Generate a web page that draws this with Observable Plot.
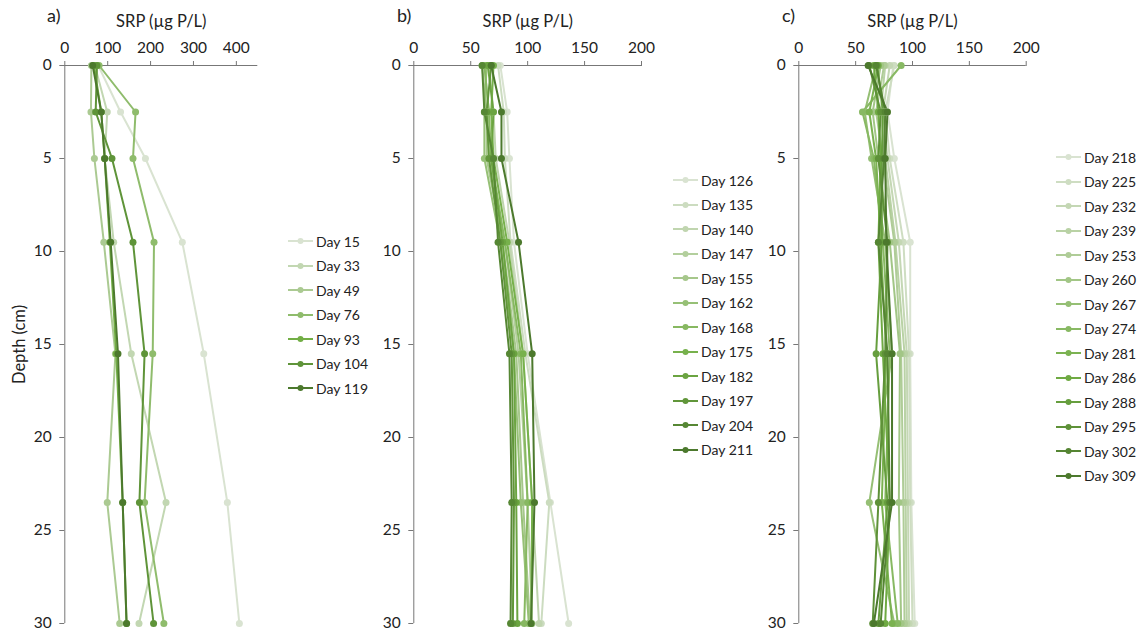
<!DOCTYPE html>
<html><head><meta charset="utf-8">
<script src="https://cdn.jsdelivr.net/npm/d3@7"></script>
<script src="https://cdn.jsdelivr.net/npm/@observablehq/plot@0.6"></script>
<style>
body{margin:0;background:#fff;font-family:Lato,"Open Sans",sans-serif;}
#chart{position:relative;width:1140px;height:634px;overflow:hidden;background:#fff;}
.panel{position:absolute;top:0;}
.tag{position:absolute;font-size:18px;color:#222;line-height:1;}
.legend{position:absolute;font-size:14px;color:#222;}
.legend .item{display:flex;align-items:center;height:24.5px;}
.legend svg{margin-right:3px;}
</style></head><body><div id="chart"></div>
<script>
// Depths (cm) of the sampling points
const depths = [0, 2.5, 5, 9.5, 15.5, 23.5, 30];

// Panel a
const daysA = [15, 33, 49, 76, 93, 104, 119];
const srpA = [
  [78, 130, 188, 274, 324, 379, 407],
  [70, 99, 93, 114, 155, 236, 173],
  [62, 61, 69, 91, 118, 99, 128],
  [80, 165, 159, 208, 205, 186, 231],
  [68, 85, 93, 105, 120, 135, 144],
  [75, 72, 110, 159, 186, 174, 207],
  [65, 85, 93, 107, 124, 135, 144]
];
const ticksA = [0, 100, 200, 300, 400];

// Panel b
const daysB = [126, 135, 140, 147, 155, 162, 168, 175, 182, 197, 204, 211];
const srpB = [
  [76, 82, 84, 88, 100, 120, 136],
  [74, 79, 80, 85, 98, 119, 112],
  [66, 70, 72, 84, 96, 104, 110],
  [62, 66, 66, 80, 92, 100, 104],
  [60, 64, 64, 78, 90, 96, 102],
  [64, 62, 62, 76, 88, 94, 101],
  [62, 66, 68, 80, 94, 100, 97],
  [70, 68, 70, 82, 96, 104, 103],
  [65, 70, 68, 78, 88, 90, 91],
  [68, 64, 66, 76, 86, 88, 87],
  [60, 62, 70, 74, 84, 86, 85],
  [68, 77, 77, 92, 104, 106, 103]
];
const ticksBC = [0, 50, 100, 150, 200];

// Panel c
const daysC = [218, 225, 232, 239, 253, 260, 267, 274, 281, 286, 288, 295, 302, 309];
const srpC = [
  [83, 78, 84, 98, 98, 99, 102],
  [84, 76, 80, 92, 97, 98, 100],
  [80, 74, 78, 88, 95, 96, 97],
  [76, 72, 76, 85, 93, 94, 95],
  [75, 68, 74, 84, 90, 92, 93],
  [72, 65, 70, 80, 89, 88, 90],
  [68, 58, 64, 76, 82, 62, 84],
  [90, 56, 66, 74, 80, 76, 87],
  [70, 62, 68, 72, 77, 73, 82],
  [66, 70, 72, 70, 74, 80, 76],
  [69, 74, 73, 73, 68, 78, 70],
  [62, 72, 70, 78, 76, 70, 65],
  [68, 76, 75, 70, 78, 80, 72],
  [61, 78, 76, 77, 82, 82, 66]
];

const depthTicks = [0, 5, 10, 15, 20, 25, 30];
const xLabel = "SRP (µg P/L)";
const yLabel = "Depth (cm)";
const paletteStops = ["#d9e3d1", "#abca92", "#72ae45", "#4c792d"];

const chart = document.getElementById("chart");
const FONT = 'Lato, "Open Sans", sans-serif';

function panel(cfg) {
  const {tag, days, srp, xMax, xTicks, left, width, ml, frameW, showY, tagX, legX, legY} = cfg;
  const names = days.map(d => `Day ${d}`);
  const data = days.flatMap((d, i) => depths.map((z, j) => ({day: names[i], depth: z, srp: srp[i][j]})));
  const colors = d3.quantize(d3.piecewise(d3.interpolateRgb, paletteStops), days.length);
  const p = Plot.plot({
    width, height: 634,
    marginTop: 65, marginBottom: 11, marginLeft: ml, marginRight: width - ml - frameW,
    x: {domain: [0, xMax], axis: null},
    y: {domain: [0, 30], reverse: true, axis: null},
    color: {domain: names, range: colors},
    style: {fontFamily: FONT, fontSize: "15.5px", color: "#222", background: "transparent", overflow: "visible"},
    marks: [
      Plot.ruleY([0], {stroke: "#777", strokeWidth: 1}),
      Plot.ruleX([0], {stroke: "#777", strokeWidth: 1}),
      Plot.axisX({anchor: "top", ticks: xTicks, tickSize: 5, tickPadding: 8, stroke: "#777",
        label: xLabel, labelAnchor: "center", labelArrow: "none", labelOffset: 50}),
      Plot.axisY({anchor: "left", ticks: depthTicks, tickSize: 5, tickPadding: 8, stroke: "#777",
        label: showY ? yLabel : null, labelAnchor: "center", labelArrow: "none", labelOffset: 52}),
      Plot.line(data, {x: "srp", y: "depth", z: "day", stroke: "day", strokeWidth: 2}),
      Plot.dot(data, {x: "srp", y: "depth", fill: "day", r: 3.5})
    ]
  });
  p.classList.add("panel");
  p.style.left = left + "px";
  // Axis titles slightly larger than tick labels
  d3.select(p).selectAll('g[aria-label="x-axis label"], g[aria-label="y-axis label"]')
    .attr("font-size", 16.5);
  chart.appendChild(p);

  const t = document.createElement("div");
  t.className = "tag";
  t.textContent = tag;
  t.style.left = tagX + "px";
  t.style.top = "6px";
  chart.appendChild(t);

  const lg = document.createElement("div");
  lg.className = "legend";
  lg.style.left = legX + "px";
  lg.style.top = (legY - 12.25) + "px";
  names.forEach((n, i) => {
    const it = document.createElement("div");
    it.className = "item";
    it.innerHTML = `<svg width="25" height="8"><line x1="0" y1="4" x2="25" y2="4" stroke="${colors[i]}" stroke-width="2"/><circle cx="12.5" cy="4" r="3" fill="${colors[i]}"/></svg><span>${n}</span>`;
    lg.appendChild(it);
  });
  chart.appendChild(lg);
}

panel({tag: "a)", days: daysA, srp: srpA, xMax: 450, xTicks: ticksA, left: 0, width: 270, ml: 64.3, frameW: 193, showY: true, tagX: 47, legX: 288, legY: 241});
panel({tag: "b)", days: daysB, srp: srpB, xMax: 200, xTicks: ticksBC, left: 360, width: 300, ml: 53.3, frameW: 227.7, showY: false, tagX: 397, legX: 673, legY: 180});
panel({tag: "c)", days: daysC, srp: srpC, xMax: 200, xTicks: ticksBC, left: 745, width: 300, ml: 53.3, frameW: 227.4, showY: false, tagX: 782, legX: 1056, legY: 157});
</script></body></html>
